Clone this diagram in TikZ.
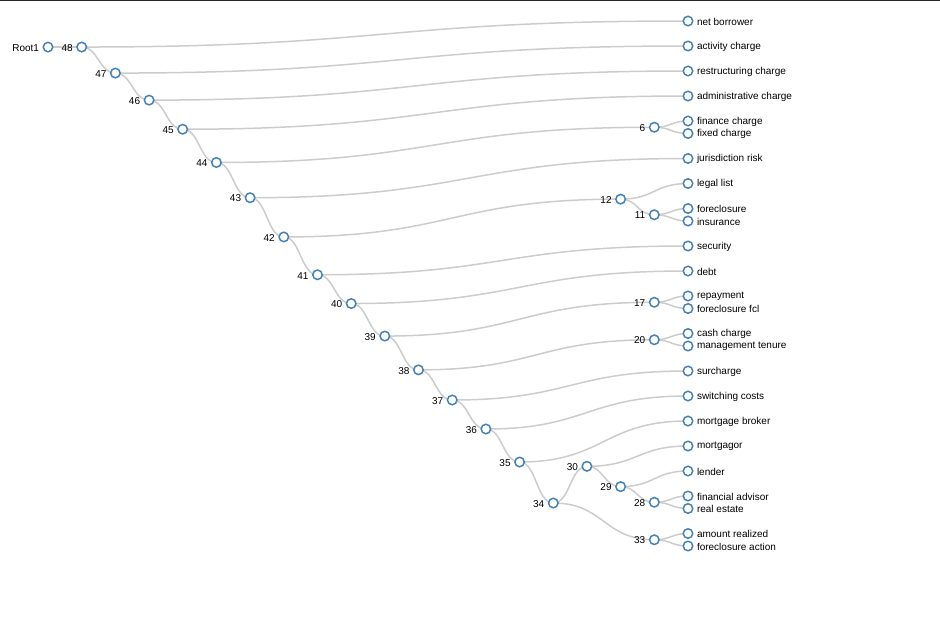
\documentclass[tikz,border=0pt]{standalone}
\usepackage{fontspec}
\setmainfont{Liberation Sans}
\usetikzlibrary{calc,backgrounds}
\definecolor{linkc}{HTML}{CCCCCC}
\definecolor{steel}{HTML}{4682B4}
\tikzset{
  dot/.style={circle,draw=steel,fill=white,line width=1.5pt,minimum size=9.5pt,inner sep=0pt},
  lab/.style={font=\fontsize{10pt}{12pt}\selectfont,text=black,inner sep=0pt,yshift=-0.8pt},
  inl/.style={label={[lab,label distance=3.3pt]left:#1}},
  lfl/.style={label={[lab,label distance=3.3pt]right:#1}},
  link/.style={draw=linkc,line width=1.5pt,
    to path={.. controls ($(\tikztostart)!0.5!(\tikztostart -| \tikztotarget)$) and ($(\tikztotarget)!0.5!(\tikztotarget -| \tikztostart)$) .. (\tikztotarget)}}
}
\begin{document}
\begin{tikzpicture}[x=1pt,y=-1pt]
\useasboundingbox (0,0) rectangle (940,618);
\fill[black!85] (0,0) rectangle (940,1.5);
% internal nodes
\node[dot,inl=Root1] (r)   at (48.0,47.03) {};
\node[dot,inl=48] (n48) at (81.7,47.03) {};
\node[dot,inl=47] (n47) at (115.4,73.06) {};
\node[dot,inl=46] (n46) at (149.1,100.12) {};
\node[dot,inl=45] (n45) at (182.7,129.24) {};
\node[dot,inl=44] (n44) at (216.4,162.49) {};
\node[dot,inl=43] (n43) at (250.1,197.72) {};
\node[dot,inl=42] (n42) at (283.8,236.95) {};
\node[dot,inl=41] (n41) at (317.5,274.77) {};
\node[dot,inl=40] (n40) at (351.2,303.53) {};
\node[dot,inl=39] (n39) at (384.8,336.06) {};
\node[dot,inl=38] (n38) at (418.5,369.88) {};
\node[dot,inl=37] (n37) at (452.2,400.0) {};
\node[dot,inl=36] (n36) at (485.9,429.01) {};
\node[dot,inl=35] (n35) at (519.6,462.02) {};
\node[dot,inl=34] (n34) at (553.3,503.03) {};
\node[dot,inl=30] (n30) at (586.9,466.31) {};
\node[dot,inl=29] (n29) at (620.6,486.63) {};
\node[dot,inl=28] (n28) at (654.3,502.25) {};
\node[dot,inl=33] (n33) at (654.3,539.75) {};
\node[dot,inl=6]  (n6)  at (654.3,127.25) {};
\node[dot,inl=12] (n12) at (620.6,199.13) {};
\node[dot,inl=11] (n11) at (654.3,214.75) {};
\node[dot,inl=17] (n17) at (654.3,302.25) {};
\node[dot,inl=20] (n20) at (654.3,339.75) {};
% leaves
\node[dot,lfl=net borrower] (l1) at (688,21) {};
\node[dot,lfl=activity charge] (l2) at (688,46) {};
\node[dot,lfl=restructuring charge] (l3) at (688,71) {};
\node[dot,lfl=administrative charge] (l4) at (688,96) {};
\node[dot,lfl=finance charge] (l5) at (688,121) {};
\node[dot,lfl=fixed charge] (l6) at (688,133.5) {};
\node[dot,lfl=jurisdiction risk] (l7) at (688,158.5) {};
\node[dot,lfl=legal list] (l8) at (688,183.5) {};
\node[dot,lfl=foreclosure] (l9) at (688,208.5) {};
\node[dot,lfl=insurance] (l10) at (688,221) {};
\node[dot,lfl=security] (l11) at (688,246) {};
\node[dot,lfl=debt] (l12) at (688,271) {};
\node[dot,lfl=repayment] (l13) at (688,296) {};
\node[dot,lfl=foreclosure fcl] (l14) at (688,308.5) {};
\node[dot,lfl=cash charge] (l15) at (688,333.5) {};
\node[dot,lfl=management tenure] (l16) at (688,346) {};
\node[dot,lfl=surcharge] (l17) at (688,371) {};
\node[dot,lfl=switching costs] (l18) at (688,396) {};
\node[dot,lfl=mortgage broker] (l19) at (688,421) {};
\node[dot,lfl=mortgagor] (l20) at (688,446) {};
\node[dot,lfl=lender] (l21) at (688,471) {};
\node[dot,lfl=financial advisor] (l22) at (688,496) {};
\node[dot,lfl=real estate] (l23) at (688,508.5) {};
\node[dot,lfl=amount realized] (l24) at (688,533.5) {};
\node[dot,lfl=foreclosure action] (l25) at (688,546) {};
\begin{scope}[on background layer]
\foreach \s/\t in {r/n48, n48/l1, n48/n47, n47/l2, n47/n46, n46/l3, n46/n45, n45/l4, n45/n44,
  n44/n6, n6/l5, n6/l6, n44/n43, n43/l7, n43/n42, n42/n12, n12/l8, n12/n11, n11/l9, n11/l10,
  n42/n41, n41/l11, n41/n40, n40/l12, n40/n39, n39/n17, n17/l13, n17/l14, n39/n38,
  n38/n20, n20/l15, n20/l16, n38/n37, n37/l17, n37/n36, n36/l18, n36/n35, n35/l19, n35/n34,
  n34/n30, n30/l20, n30/n29, n29/l21, n29/n28, n28/l22, n28/l23, n34/n33, n33/l24, n33/l25}
  \draw[link] (\s.center) to (\t.center);
\end{scope}
\end{tikzpicture}
\end{document}
